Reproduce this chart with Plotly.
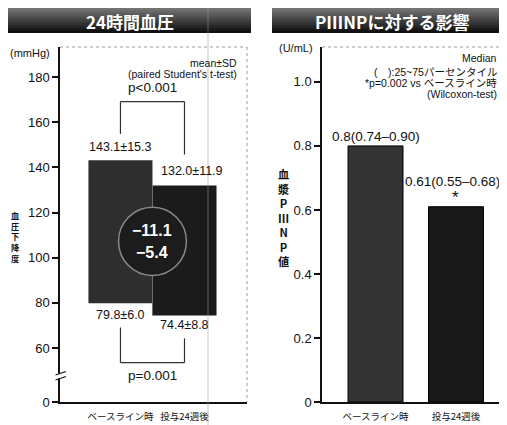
import plotly.graph_objects as go

# The page body has an 8 px margin, so the figure is drawn 8 px in and
# sized to fill exactly the rest of the 507x425 window.
W, H = 507, 425
OFF = 8
FW, FH = W - OFF, H - OFF

def xp(px):
    return (px - OFF) / FW

def yp(py):
    return 1 - (py - OFF) / FH

# ---------------- data ----------------
bp_categories = ["ベースライン時", "投与24週後"]
sbp_mean = [143.1, 132.0]
sbp_sd = [15.3, 11.9]
dbp_mean = [79.8, 74.4]
dbp_sd = [6.0, 8.8]
bp_change = [-11.1, -5.4]
bp_pvalues = ["p&lt;0.001", "p=0.001"]
bp_ticks = [60, 80, 100, 120, 140, 160, 180]

p3np_categories = ["ベースライン時", "投与24週後"]
p3np_median = [0.8, 0.61]
p3np_q1 = [0.74, 0.55]
p3np_q3 = [0.90, 0.68]
p3np_ticks = [0, 0.2, 0.4, 0.6, 0.8, 1.0]

# ---------------- layout constants ----------------
LAT = "Liberation Sans, Arial, Noto Sans CJK JP"
JP = "Noto Sans CJK JP"
INK = "#111111"
BP_ZERO = 36.1          # where the broken-axis "0" sits
BP_RANGE = [BP_ZERO, 193.3]
P_RANGE = [0, 1.109]

fig = go.Figure()

# floating bars: SBP top, DBP bottom
fig.add_trace(go.Bar(
    x=bp_categories,
    y=[s - d for s, d in zip(sbp_mean, dbp_mean)],
    base=dbp_mean,
    width=1.0,
    marker=dict(color=["#2e2e2e", "#1b1b1b"], line=dict(width=0)),
    xaxis="x", yaxis="y", showlegend=False, hoverinfo="skip",
))

fig.add_trace(go.Bar(
    x=p3np_categories,
    y=p3np_median,
    width=0.683,
    marker=dict(color=["#333333", "#181818"], line=dict(color="#000", width=1)),
    xaxis="x2", yaxis="y2", showlegend=False, hoverinfo="skip",
))

axis_common = dict(showline=True, linecolor=INK, linewidth=1.5, showgrid=False,
                   zeroline=False, fixedrange=True, automargin=False)

fig.update_layout(
    width=FW, height=FH,
    margin=dict(l=0, r=0, t=0, b=0, pad=0, autoexpand=False),
    paper_bgcolor="white", plot_bgcolor="white",
    barmode="overlay",
    xaxis=dict(domain=[xp(60), xp(247)], range=[-0.944, 1.976], anchor="y",
               ticks="", ticklabelstandoff=5, tickangle=0,
               tickfont=dict(family=JP, size=9.5, color=INK), **axis_common),
    yaxis=dict(domain=[yp(402), yp(47)], range=BP_RANGE, anchor="x",
               tickvals=[BP_ZERO] + bp_ticks,
               ticktext=["0"] + [str(t) for t in bp_ticks],
               ticks="outside", ticklen=6, tickwidth=1.5, tickcolor=INK,
               tickfont=dict(family=LAT, size=13, color=INK), **axis_common),
    xaxis2=dict(domain=[xp(322), xp(505)], range=[-0.665, 1.609], anchor="y2",
                ticks="", ticklabelstandoff=5, tickangle=0,
                tickfont=dict(family=JP, size=9.5, color=INK), **axis_common),
    yaxis2=dict(domain=[yp(402), yp(47)], range=P_RANGE, anchor="x2",
                tickvals=p3np_ticks,
                ticktext=["0" if t == 0 else f"{t:.1f}" for t in p3np_ticks],
                ticks="outside", ticklen=6, tickwidth=1.5, tickcolor=INK,
                tickfont=dict(family=LAT, size=13, color=INK), **axis_common),
)

shapes = []
ann = []

def text(x, y, s, size, family=LAT, color=INK, xref="paper", yref="paper",
         xanchor="center", yanchor="middle"):
    ann.append(dict(xref=xref, yref=yref, x=x, y=y, text=s, showarrow=False,
                    xanchor=xanchor, yanchor=yanchor,
                    font=dict(family=family, size=size, color=color)))

# title bars with a vertical gradient (light top -> black bottom)
def title_bar(x0, x1, y0, y1, n=10):
    h = (y1 - y0) / n
    for i in range(n):
        t = i / (n - 1)
        g = int(115 - 100 * t)
        shapes.append(dict(type="rect", xref="paper", yref="paper", layer="above",
                           x0=xp(x0), x1=xp(x1),
                           y0=yp(min(y1, y0 + h * (i + 1) + 0.8)),
                           y1=yp(y0 + h * i),
                           fillcolor=f"rgb({g},{g},{g})", line=dict(width=0)))

title_bar(8, 251, 8, 33)
title_bar(272, 503, 8, 33)
text(xp(129.5), yp(21), "<b>24時間血圧</b>", 17, family=JP, color="white")
text(xp(392), yp(21), "<b>PⅢNPに対する影響</b>", 17, family=JP, color="white")

# dotted frame (top/right) of the plot areas
for (xa, xb, ya, yb) in [(60, 247, 47, 47), (247, 247, 47, 402),
                         (322, 505, 47, 47), (505, 505, 47, 402)]:
    shapes.append(dict(type="line", xref="paper", yref="paper", layer="above",
                       x0=xp(xa), x1=xp(xb), y0=yp(ya), y1=yp(yb),
                       line=dict(color="#9a9a9a", width=1, dash="dot")))

# seam between the two BP bars
shapes.append(dict(type="line", xref="x", yref="y", layer="above",
                   x0=0.5, x1=0.5, y0=dbp_mean[1], y1=sbp_mean[1],
                   line=dict(color="#6e6e6e", width=1)))

# change circle
cy = 107.2
shapes.append(dict(type="circle", xref="x", yref="y", layer="above",
                   x0=0.5 - 0.53, x1=0.5 + 0.53, y0=cy - 15.1, y1=cy + 15.1,
                   fillcolor="#1c1c1c", line=dict(color="#8a8a8a", width=1.5)))
text(0.5, 112.0, f"<b>−{abs(bp_change[0]):.1f}</b>", 16, color="white", xref="x", yref="y")
text(0.5, 102.3, f"<b>−{abs(bp_change[1]):.1f}</b>", 16, color="white", xref="x", yref="y")

# brackets
def bracket(yh, yl0, yl1):
    for (xa, xb, ya, yb) in [(0, 0, yl0, yh), (1, 1, yl1, yh), (0, 1, yh, yh)]:
        shapes.append(dict(type="line", xref="x", yref="y", layer="above",
                           x0=xa, x1=xb, y0=ya, y1=yb,
                           line=dict(color="#333", width=1.2)))

bracket(169.1, 154.8, 145.7)
bracket(53.5, 69.1, 64.3)
text(0.5, 175.3, bp_pvalues[0], 13.5, xref="x", yref="y")
text(0.5, 48.0, bp_pvalues[1], 13.5, xref="x", yref="y")

# value labels (BP)
text(0, sbp_mean[0] + 5.7, f"{sbp_mean[0]:.1f}±{sbp_sd[0]:.1f}", 12.5, xref="x", yref="y")
text(1.12, sbp_mean[1] + 6.3, f"{sbp_mean[1]:.1f}±{sbp_sd[1]:.1f}", 12.5, xref="x", yref="y")
text(0, dbp_mean[0] - 5.0, f"{dbp_mean[0]:.1f}±{dbp_sd[0]:.1f}", 12.5, xref="x", yref="y")
text(1.0, dbp_mean[1] - 4.4, f"{dbp_mean[1]:.1f}±{dbp_sd[1]:.1f}", 12.5, xref="x", yref="y")

# notes (BP)
text(xp(239), yp(63), "mean±SD", 10.5, xanchor="right")
text(xp(239), yp(73.5), "(paired Student's t-test)", 10.5, xanchor="right")

# units
text(xp(30), yp(52.5), "(mmHg)", 11)
text(xp(296), yp(48), "(U/mL)", 11)

# vertical y titles, stacked one character per line
text(xp(15), yp(236), "<b>" + "<br>".join("血圧下降度") + "</b>", 8.2, family=JP)
text(xp(283), yp(217.5), "<b>" + "<br>".join(["血", "漿", "P", "Ⅲ", "N", "P", "値"]) + "</b>",
     11.2, family=JP)

# axis break on the BP y-axis
shapes.append(dict(type="rect", xref="paper", yref="paper", layer="above",
                   x0=xp(57), x1=xp(65), y0=yp(378.5), y1=yp(373.5),
                   fillcolor="white", line=dict(width=0)))
for dy in (0, 5):
    shapes.append(dict(type="line", xref="paper", yref="paper", layer="above",
                       x0=xp(55.5), x1=xp(66), y0=yp(375 + dy), y1=yp(371.5 + dy),
                       line=dict(color=INK, width=1.3)))

# value labels (PIIINP)
text(0, p3np_median[0] + 0.028,
     f"{p3np_median[0]}({p3np_q1[0]:.2f}–{p3np_q3[0]:.2f})", 13.5, xref="x2", yref="y2")
text(0.96, p3np_median[1] + 0.0775,
     f"{p3np_median[1]}({p3np_q1[1]:.2f}–{p3np_q3[1]:.2f})", 13.5, xref="x2", yref="y2")
text(1.0, p3np_median[1] + 0.030, "*", 17, xref="x2", yref="y2")

# notes (PIIINP)
for txt, py in [("Median", 58.3), ("(\u3000):25~75パーセンタイル", 71.7),
                ("*p=0.002 vs ベースライン時", 82.6), ("(Wilcoxon-test)", 94.0)]:
    text(xp(499), yp(py), txt, 10.5, family=LAT + ", " + JP, xanchor="right")

# faint scan line running through the page
shapes.append(dict(type="line", xref="paper", yref="paper", layer="above",
                   x0=xp(208), x1=xp(208), y0=0, y1=1,
                   line=dict(color="rgba(150,150,150,0.55)", width=1)))

fig.update_layout(shapes=shapes, annotations=ann)
fig.write_html("out.html")
